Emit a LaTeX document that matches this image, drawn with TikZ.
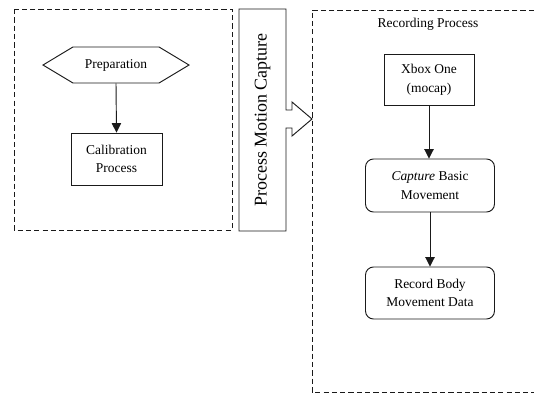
\documentclass[tikz,border=0pt]{standalone}
\usepackage{fontspec}
\setmainfont{Liberation Serif}
\usepackage{tikz}
\usetikzlibrary{shapes.symbols, arrows.meta, positioning, calc}
\definecolor{recline}{HTML}{1A1A1A}
\tikzset{
    groupbox/.style={draw=recline, line width=0.8pt, dash pattern=on 4.5pt off 2.6pt},
    procbox/.style={draw=recline, line width=0.8pt, fill=white, align=center, font=\fontsize{11.5}{16}\selectfont},
    roundbox/.style={procbox, rounded corners=0.24cm},
    flowarrow/.style={draw=recline, line width=0.8pt, -{Triangle[length=0.28cm, width=0.28cm]}}
}

\begin{document}
\begin{tikzpicture}
    \useasboundingbox (0,0) rectangle (16.02,-11.82);

    % Preparation group
    \draw[groupbox] (0.42,-0.27) rectangle (6.96,-6.9);
    \node[procbox, signal, signal to=west and east, signal pointer angle=62, minimum width=4.38cm, minimum height=1.08cm, inner sep=0pt] (prep) at (3.48,-1.95) {Preparation};
    \node[procbox, minimum width=2.73cm, minimum height=1.56cm] (calib) at (3.495,-4.77) {Calibration\\Process};
    \draw[flowarrow] (prep.south) -- (calib.north);

    % Block arrow
    \draw[draw=recline, line width=0.8pt, fill=white] (7.17,-0.27) -- (8.58,-0.27) -- (8.58,-3.3) -- (8.76,-3.3) -- (8.76,-3.06)
        -- (9.36,-3.57) -- (8.76,-4.08) -- (8.76,-3.84) -- (8.58,-3.84) -- (8.58,-6.93) -- (7.17,-6.93) -- cycle;
    \node[rotate=90, font=\fontsize{15.3}{18}\selectfont] (pmc) at (7.875,-3.6) {Process Motion Capture};

    % Recording group
    \draw[groupbox] (16.02,-0.3) -- (9.36,-0.3) -- (9.36,-11.76) -- (16.02,-11.76);
    \node[font=\fontsize{11.5}{14}\selectfont] (rectitle) at (12.84,-0.72) {Recording Process};
    \node[procbox, minimum width=2.7cm, minimum height=1.53cm] (xbox) at (12.87,-2.385) {Xbox One\\(mocap)};
    \node[roundbox, minimum width=3.87cm, minimum height=1.59cm] (capture) at (12.9,-5.565) {\textit{Capture} Basic\\Movement};
    \node[roundbox, minimum width=3.87cm, minimum height=1.56cm] (record) at (12.9,-8.79) {Record Body\\Movement Data};
    \draw[flowarrow] (xbox.south) -- (xbox.south |- capture.north);
    \draw[flowarrow] (capture.south) -- (record.north);
\end{tikzpicture}
\end{document}
